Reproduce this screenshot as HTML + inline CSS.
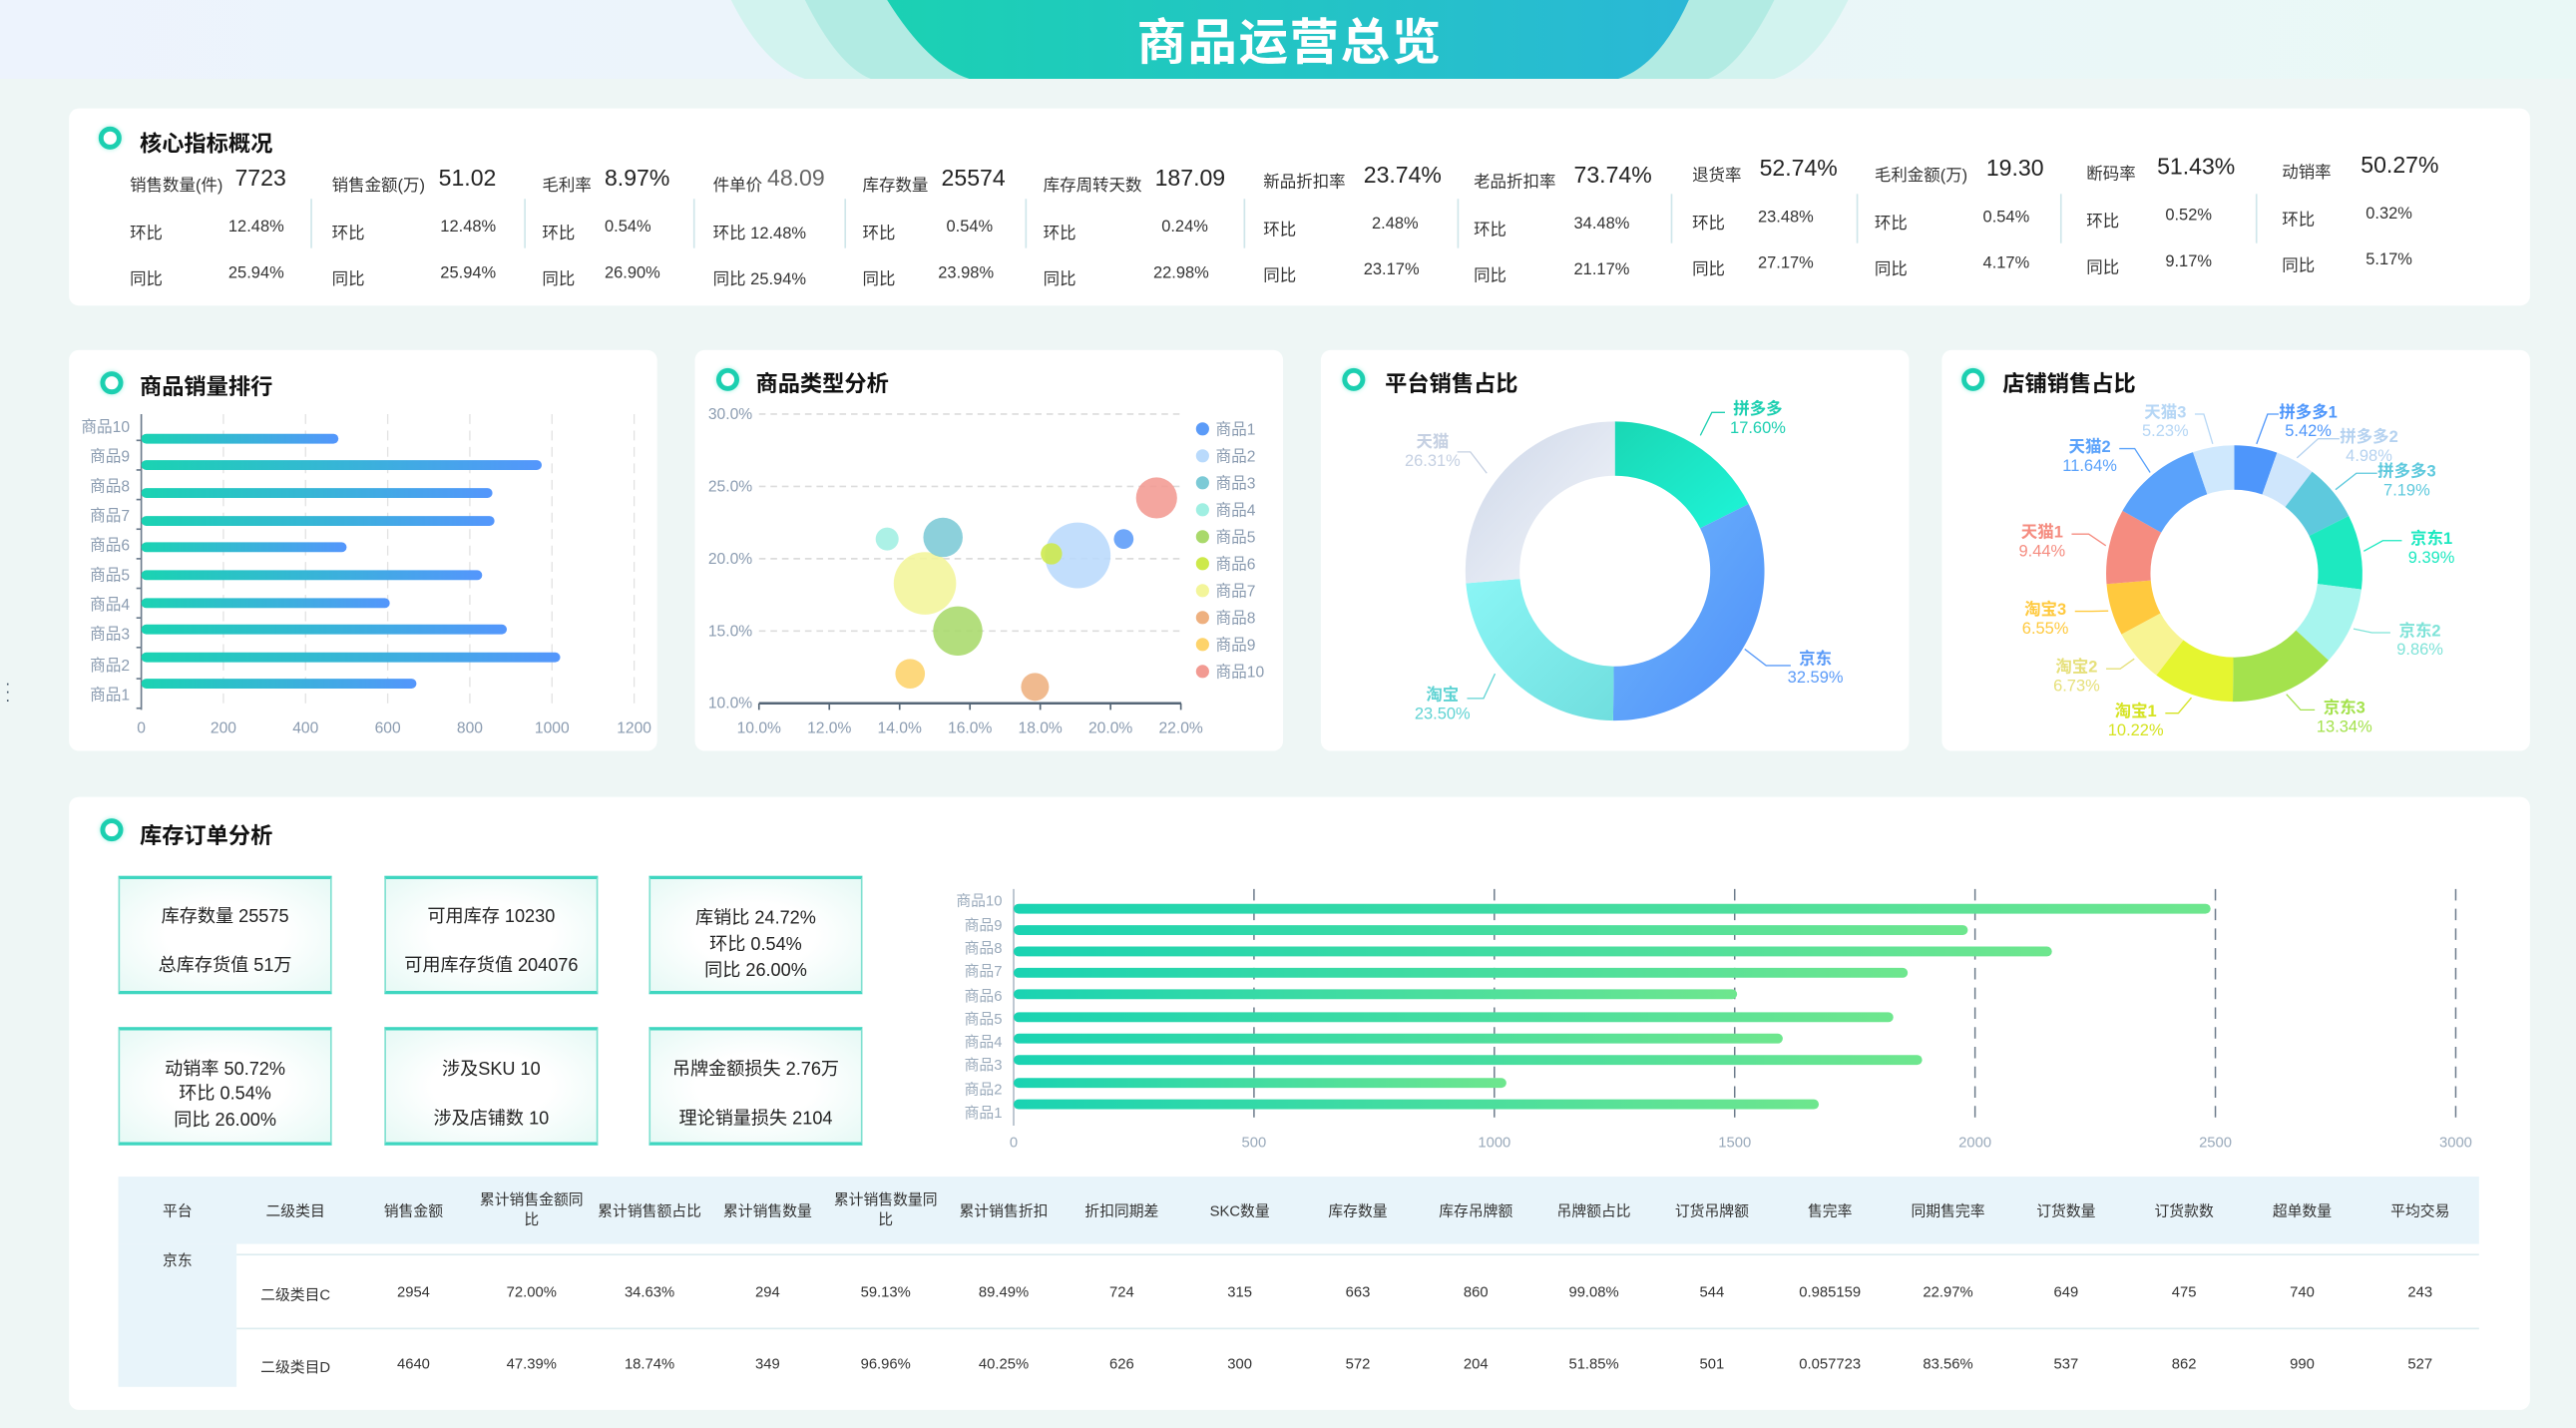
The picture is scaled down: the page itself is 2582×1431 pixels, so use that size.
<!DOCTYPE html>
<html><head><meta charset="utf-8">
<style>
*{margin:0;padding:0;box-sizing:border-box}
html,body{width:2582px;height:1431px;overflow:hidden;background:#eef6f5}
#s{position:absolute;left:0;top:0;width:1568px;height:869px;transform:scale(1.64668,1.64672);transform-origin:0 0;font-family:"Liberation Sans","Noto Sans CJK SC",sans-serif;color:#333}
.a{position:absolute;white-space:nowrap}
.p{position:absolute;background:#fff;border-radius:6px}
.t{position:absolute;font-size:13.5px;font-weight:bold;color:#111}
.ic{position:absolute;width:14px;height:14px;border-radius:50%;border:3px solid #1ccfb0;box-shadow:0 0 3px #a6f0e2}
.l{font-size:10px;color:#333}
.v{font-size:14px;color:#222}
.sep{position:absolute;width:1px;background:#cfe6ea;top:121px;height:30px}
.card{position:absolute;width:130px;height:72px;border:1px solid #7fe0d0;border-top:2px solid #3fd6c0;border-bottom:2px solid #3fd6c0;background:radial-gradient(ellipse at center,#fff 40%,#e6f9f5 100%);font-size:11px;color:#222}
.card div{position:absolute;width:100%;text-align:center}
.th{position:absolute;font-size:9px;color:#333;text-align:center;width:72px;line-height:12px}
.td{position:absolute;font-size:9px;color:#333;text-align:center;width:72px}
</style></head><body>
<div id="s">
<!-- header -->
<div class="a" style="left:0;top:0;width:1568px;height:48px;background:linear-gradient(90deg,#edf3fd,#e9f8f6)"></div>
<svg class="a" style="left:0;top:0" width="1568" height="50">
<defs><linearGradient id="hg" x1="0" x2="1"><stop offset="0" stop-color="#1bd1b3"/><stop offset="1" stop-color="#2ab8d6"/></linearGradient></defs>
<path d="M445 0 L1125 0 Q1105 40 1080 48 L490 48 Q465 40 445 0Z" fill="#d2f3ef"/>
<path d="M490 0 L1080 0 Q1060 40 1040 48 L530 48 Q510 40 490 0Z" fill="#b2ebe3"/>
<path d="M540 0 L1028 0 Q1010 40 985 48 L590 48 Q565 40 540 0Z" fill="url(#hg)"/>
<text x="785" y="36" text-anchor="middle" font-size="30" font-weight="bold" fill="#fff" font-family="Liberation Sans,Noto Sans CJK SC,sans-serif" letter-spacing="1">商品运营总览</text>
</svg>
<div class="a" style="left:3px;top:414px;font-size:10px;color:#456;line-height:5px">·<br>·<br>·</div>

<!-- KPI panel -->
<div class="p" style="left:42px;top:66px;width:1498px;height:120px"></div>
<div class="ic" style="left:60px;top:77px"></div><div class="t" style="left:85px;top:76px">核心指标概况</div>
<div id="kpi"></div>

<!-- panel 2 -->
<div class="p" style="left:42px;top:213px;width:358px;height:244px"></div>
<div class="ic" style="left:61px;top:226px"></div><div class="t" style="left:85px;top:224px">商品销量排行</div>
<svg id="bar1" class="a" style="left:0;top:0" width="420" height="460"></svg>

<!-- panel 3 -->
<div class="p" style="left:423px;top:213px;width:358px;height:244px"></div>
<div class="ic" style="left:436px;top:224px"></div><div class="t" style="left:460px;top:222px">商品类型分析</div>
<svg id="bub" class="a" style="left:0;top:0" width="800" height="460"></svg>

<!-- panel 4 -->
<div class="p" style="left:804px;top:213px;width:358px;height:244px"></div>
<div class="ic" style="left:817px;top:224px"></div><div class="t" style="left:843px;top:222px">平台销售占比</div>
<!-- panel 5 -->
<div class="p" style="left:1182px;top:213px;width:358px;height:244px"></div>
<div class="ic" style="left:1194px;top:224px"></div><div class="t" style="left:1219px;top:222px">店铺销售占比</div>
<svg id="pies" class="a" style="left:0;top:0" width="1568" height="460"></svg>

<!-- panel 6 -->
<div class="p" style="left:42px;top:485px;width:1498px;height:373px"></div>
<div class="ic" style="left:61px;top:498px"></div><div class="t" style="left:85px;top:497px">库存订单分析</div>
<div class="card" style="left:72px;top:533px"><div style="top:14px">库存数量 25575</div><div style="top:44px">总库存货值 51万</div></div>
<div class="card" style="left:234px;top:533px"><div style="top:14px">可用库存 10230</div><div style="top:44px">可用库存货值 204076</div></div>
<div class="card" style="left:395px;top:533px"><div style="top:15px">库销比 24.72%</div><div style="top:31px">环比 0.54%</div><div style="top:47px">同比 26.00%</div></div>
<div class="card" style="left:72px;top:625px"><div style="top:15px">动销率 50.72%</div><div style="top:30px">环比 0.54%</div><div style="top:46px">同比 26.00%</div></div>
<div class="card" style="left:234px;top:625px"><div style="top:15px">涉及SKU 10</div><div style="top:45px">涉及店铺数 10</div></div>
<div class="card" style="left:395px;top:625px"><div style="top:15px">吊牌金额损失 2.76万</div><div style="top:45px">理论销量损失 2104</div></div>
<svg id="bar2" class="a" style="left:0;top:0" width="1568" height="710"></svg>
<!-- table -->
<div class="a" style="left:72px;top:716px;width:1437px;height:41px;background:#e8f4fa"></div>
<div class="a" style="left:72px;top:757px;width:72px;height:87px;background:#e8f4fa"></div>
<div class="a" style="left:144px;top:763px;width:1365px;height:1px;background:#dcecef"></div>
<div class="a" style="left:144px;top:808px;width:1365px;height:1px;background:#dcecef"></div>
<div id="tbl"></div>
</div>
<script>
const NS='http://www.w3.org/2000/svg';
function el(p,t,a,txt){const e=document.createElementNS(NS,t);for(const k in a)e.setAttribute(k,a[k]);if(txt!==undefined)e.textContent=txt;p.appendChild(e);return e}
function div(p,html,st,cls){const d=document.createElement('div');d.className='a '+(cls||'');d.style.cssText=st;d.innerHTML=html;p.appendChild(d);return d}
const FF='Liberation Sans,Noto Sans CJK SC,sans-serif';
// KPI
const K=document.getElementById('kpi');
const G=[[79,'销售数量(件)',143,'7723',139,'12.48%',139,'25.94%',0],[202,'销售金额(万)',267,'51.02',268,'12.48%',268,'25.94%',0],[330,'毛利率',368,'8.97%',368,'0.54%',368,'26.90%',0],[434,'件单价',467,'48.09',null,'环比 12.48%',null,'同比 25.94%',0],[525,'库存数量',573,'25574',576,'0.54%',571,'23.98%',0],[635,'库存周转天数',703,'187.09',707,'0.24%',702,'22.98%',0],[769,'新品折扣率',830,'23.74%',835,'2.48%',830,'23.17%',-2],[897,'老品折扣率',958,'73.74%',958,'34.48%',958,'21.17%',-2],[1030,'退货率',1071,'52.74%',1070,'23.48%',1070,'27.17%',-6],[1141,'毛利金额(万)',1209,'19.30',1207,'0.54%',1207,'4.17%',-6],[1270,'断码率',1313,'51.43%',1318,'0.52%',1318,'9.17%',-7],[1389,'动销率',1437,'50.27%',1440,'0.32%',1440,'5.17%',-8]];
G.forEach(g=>{const o=g[8];
 div(K,g[1],`left:${g[0]}px;top:${104+o}px`,'l');
 div(K,g[3],`left:${g[2]}px;top:${100+o}px;${g[0]==434?'color:#666':''}`,'v');
 if(g[4]===null){div(K,g[5],`left:${g[0]}px;top:${133+o}px`,'l');div(K,g[7],`left:${g[0]}px;top:${161+o}px`,'l');}
 else{div(K,'环比',`left:${g[0]}px;top:${133+o}px`,'l');div(K,g[5],`left:${g[4]}px;top:${133+o}px`,'l');
 div(K,'同比',`left:${g[0]}px;top:${161+o}px`,'l');div(K,g[7],`left:${g[6]}px;top:${161+o}px`,'l');}
});
[189,319,422,514,624,757,887,1017,1130,1254,1373].forEach((x,i)=>{const d=document.createElement('div');d.className='sep';d.style.left=x+'px';if(i>=7){d.style.top='118px'};K.appendChild(d)});
// bar1
(function(){const s=document.getElementById('bar1');
const d=el(s,'defs',{});const lg=el(d,'linearGradient',{id:'g1',x1:0,x2:1});el(lg,'stop',{offset:0,'stop-color':'#1ad3b2'});el(lg,'stop',{offset:1,'stop-color':'#5496fc'});
for(let i=1;i<=6;i++){const x=86+i*50;el(s,'line',{x1:x,x2:x,y1:252,y2:432,stroke:'#e2e2e2','stroke-dasharray':'6 4','stroke-width':0.8})}
el(s,'line',{x1:86,x2:86,y1:252,y2:432,stroke:'#6b7b8c','stroke-width':1});
for(let i=0;i<=6;i++)el(s,'text',{x:86+i*50,y:446,'text-anchor':'middle','font-size':9.5,fill:'#8a9bb0','font-family':FF},String(i*200));
const vals=[670,1020,890,605,830,500,860,855,975,480];const by=[416,400,383,367,350,333,317,300,283,267];const ly=[426,408,389,371,353,335,317,299,281,263];
vals.forEach((v,i)=>{el(s,'rect',{x:86,y:by[i]-3,width:v*0.25,height:6,rx:3,fill:'url(#g1)'});
 el(s,'text',{x:79,y:ly[i],'text-anchor':'end','font-size':9.5,fill:'#8a9bb0','font-family':FF},'商品'+(i+1));
 el(s,'line',{x1:83,x2:86,y1:ly[i]+5,y2:ly[i]+5,stroke:'#6b7b8c'});});
})();
// bubble
(function(){const s=document.getElementById('bub');
const yv=[[30,252],[25,296],[20,340],[15,384]];yv.forEach(a=>el(s,'line',{x1:462,x2:719,y1:a[1],y2:a[1],stroke:'#dcdcdc','stroke-dasharray':'4 3'}));
[[30,252],[25,296],[20,340],[15,384],[10,428]].forEach(a=>el(s,'text',{x:458,y:a[1]+3,'text-anchor':'end','font-size':9.5,fill:'#8a9bb0','font-family':FF},a[0]+'.0%'));
el(s,'line',{x1:462,x2:719,y1:428,y2:428,stroke:'#556677','stroke-width':1.5});
for(let i=0;i<=6;i++){const x=462+i*42.8;el(s,'line',{x1:x,x2:x,y1:428,y2:432,stroke:'#556677'});el(s,'text',{x:x,y:446,'text-anchor':'middle','font-size':9.5,fill:'#8a9bb0','font-family':FF},(10+2*i)+'.0%')}
const C=['#5b9bf8','#b9dafc','#7ccad6','#a0efe2','#a9d96b','#cde94a','#f3f59a','#eeb07f','#fdd36b','#f29a92'];
const B=[[684,328,6],[656,338,20],[574,327,12],[540,328,7],[583,384,15],[640,337,6.5],[563,355,19],[630,418,8.5],[554,410,9],[704,303,12.5]];
[1,6,2,3,4,0,5,7,8,9].forEach(i=>{const b=B[i];el(s,'circle',{cx:b[0],cy:b[1],r:b[2],fill:C[i],opacity:0.88})});
C.forEach((c,i)=>{const y=261+i*16.4;el(s,'circle',{cx:732,cy:y,r:4,fill:c});el(s,'text',{x:740,y:y+3.5,'font-size':9.5,fill:'#8a9bb0','font-family':FF},'商品'+(i+1))});
})();
// pies
(function(){const s=document.getElementById('pies');
function arc(cx,cy,R,r,a0,a1){const p=a=>[Math.sin(a),-Math.cos(a)];const [x0,y0]=p(a0),[x1,y1]=p(a1);const lg=(a1-a0)>Math.PI?1:0;
return `M${cx+R*x0} ${cy+R*y0} A${R} ${R} 0 ${lg} 1 ${cx+R*x1} ${cy+R*y1} L${cx+r*x1} ${cy+r*y1} A${r} ${r} 0 ${lg} 0 ${cx+r*x0} ${cy+r*y0}Z`}
function donut(cx,cy,R,r,data){let a=0;const T=data.reduce((s,d)=>s+d[0],0);data.forEach(d=>{const a1=a+d[0]/T*2*Math.PI;el(s,'path',{d:arc(cx,cy,R,r,a,a1),fill:d[1]});a=a1})}
const d=el(s,'defs',{});
function grad(id,c0,c1){const g=el(d,'linearGradient',{id:id,x1:0,y1:0,x2:1,y2:1});el(g,'stop',{offset:0,'stop-color':c0});el(g,'stop',{offset:1,'stop-color':c1})}
grad('pa','#1ad7b4','#1ef5d8');grad('pb','#6eb5fd','#4f90f8');grad('pc','#8bf6f6','#70dede');grad('pd','#ccd6e8','#f5f7fb');
donut(983,347.5,91,58,[[17.6,'url(#pa)'],[32.59,'url(#pb)'],[23.5,'url(#pc)'],[26.31,'url(#pd)']]);
function lab(x,y,a,b,c,anc){const t=el(s,'text',{x:x,y:y,'text-anchor':anc||'middle','font-size':10,'font-weight':'bold',fill:c,'font-family':FF},a);el(s,'text',{x:x,y:y+11.5,'text-anchor':anc||'middle','font-size':10,fill:c,'font-family':FF},b)}
function ln(pts,c){el(s,'polyline',{points:pts,fill:'none',stroke:c,'stroke-width':0.8})}
lab(1070,252,'拼多多','17.60%','#1ccfb0');ln('1035,265 1042,251 1050,251','#1ccfb0');
lab(872,272,'天猫','26.31%','#c5d0e2');ln('905,288 895,275 887,275','#c5d0e2');
lab(1105,404,'京东','32.59%','#5b9bf8');ln('1062,395 1075,405 1090,405','#5b9bf8');
lab(878,426,'淘宝','23.50%','#5fd3d3');ln('910,410 903,425 893,425','#5fd3d3');
const S=[[5.42,'#4e96fb','拼多多1',1405,254],[4.98,'#cfe6fc','拼多多2',1442,269],[7.19,'#5ec9dd','拼多多3',1465,290],[9.39,'#1de9c0','京东1',1480,331],[9.86,'#a7f5ee','京东2',1473,387],[13.34,'#a4e24d','京东3',1427,434],[10.22,'#e5f530','淘宝1',1300,436],[6.73,'#f8f493','淘宝2',1264,409],[6.55,'#ffc93e','淘宝3',1245,374],[9.44,'#f58c80','天猫1',1243,327],[11.64,'#5aa2fb','天猫2',1272,275],[5.23,'#cfe8fd','天猫3',1318,254]];
donut(1360,349,78,51,S.map(x=>[x[0],x[1]]));
const LC={'拼多多2':'#b5d2f0','天猫3':'#b5d6f5','京东2':'#7fe3d8','淘宝2':'#e6e07a','淘宝1':'#d5e321'};
let a=0;S.forEach(x=>{const m=a+x[0]/100*Math.PI;a+=x[0]/100*2*Math.PI;const c=LC[x[2]]||x[1];
 const px=1360+80*Math.sin(m),py=349-80*Math.cos(m);const tx=x[3]+(x[3]>1360?-18:18),ty=x[4]-2;
 ln(`${px},${py} ${(px+tx)/2},${ty} ${tx},${ty}`,c);
 lab(x[3],x[4],x[2],x[0].toFixed(2)+'%',c)});
})();
// bar2
(function(){const s=document.getElementById('bar2');
const d=el(s,'defs',{});const lg=el(d,'linearGradient',{id:'g2',x1:0,x2:1});el(lg,'stop',{offset:0,'stop-color':'#1ad3b2'});el(lg,'stop',{offset:1,'stop-color':'#6ee68e'});
for(let i=1;i<=6;i++){const x=617+i*146.3;el(s,'line',{x1:x,x2:x,y1:541,y2:685,stroke:'#6b7a8a','stroke-dasharray':'7 5','stroke-width':0.9})}
el(s,'line',{x1:617,x2:617,y1:541,y2:685,stroke:'#b0bcc8'});
for(let i=0;i<=6;i++)el(s,'text',{x:617+i*146.3,y:698,'text-anchor':'middle','font-size':9,fill:'#9aaabb','font-family':FF},String(i*500));
const V=[1675,1025,1890,1600,1830,1505,1860,2160,1985,2490];const by=[672,659,645,632,619,605,592,579,566,553];const ly=[680,666,651,637,623,609,594,580,566,551];
V.forEach((v,i)=>{el(s,'rect',{x:617,y:by[i]-3,width:v*146.3/500,height:6,rx:3,fill:'url(#g2)'});
el(s,'text',{x:610,y:ly[i],'text-anchor':'end','font-size':9,fill:'#9aaabb','font-family':FF},'商品'+(i+1))});
})();
// table
(function(){const T=document.getElementById('tbl');
const H=['平台','二级类目','销售金额','累计销售金额同比','累计销售额占比','累计销售数量','累计销售数量同比','累计销售折扣','折扣同期差','SKC数量','库存数量','库存吊牌额','吊牌额占比','订货吊牌额','售完率','同期售完率','订货数量','订货款数','超单数量','平均交易'];
const R1=['','二级类目C','2954','72.00%','34.63%','294','59.13%','89.49%','724','315','663','860','99.08%','544','0.985159','22.97%','649','475','740','243'];
const R2=['','二级类目D','4640','47.39%','18.74%','349','96.96%','40.25%','626','300','572','204','51.85%','501','0.057723','83.56%','537','862','990','527'];
H.forEach((h,i)=>{const x=72+i*71.85;const two=(i==3||i==6);
 const dd=div(T,two?(i==3?'累计销售金额同<br>比':'累计销售数量同<br>比'):h,`left:${x}px;top:${two?724:731}px`,'th');
 div(T,R1[i],`left:${x}px;top:781px`,'td');div(T,R2[i],`left:${x}px;top:825px`,'td');});
div(T,'京东','left:72px;top:760px','td');
})();
</script>
</body></html>
